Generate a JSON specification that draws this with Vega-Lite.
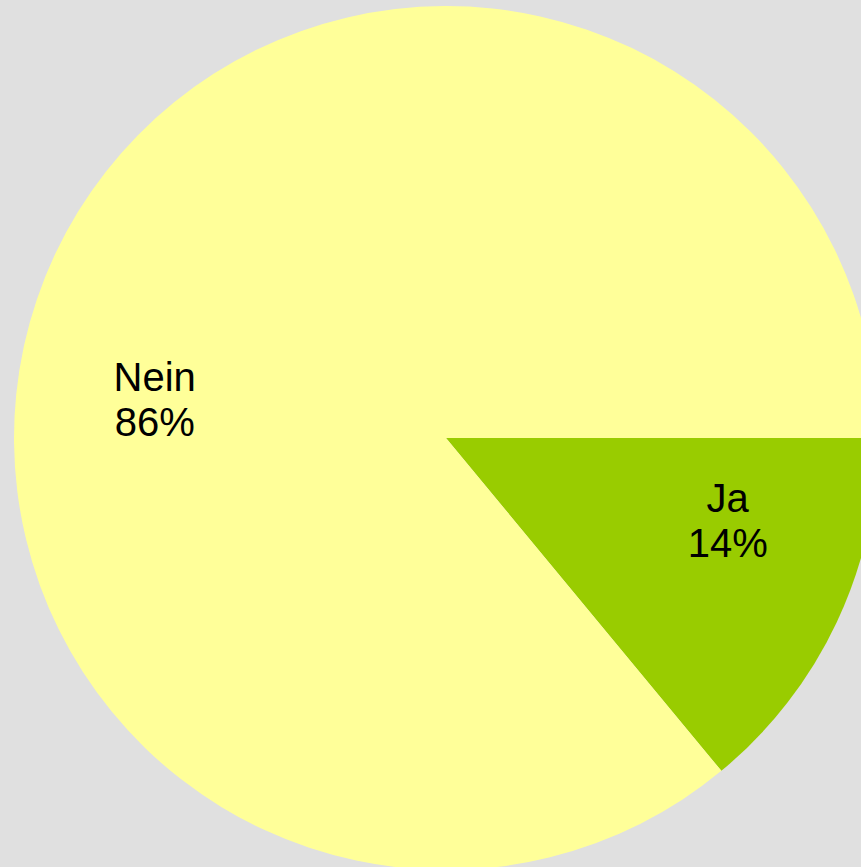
{
  "$schema": "https://vega.github.io/schema/vega-lite/v6.json",
  "width": 830,
  "height": 858,
  "padding": {"left": 31, "top": 9, "right": 0, "bottom": 0},
  "autosize": {"type": "none"},
  "background": "#e0e0e0",
  "config": {"view": {"stroke": null}},
  "data": {"values": [
    {"answer": "Ja", "share": 14, "label": ["Ja", "14%"]},
    {"answer": "Nein", "share": 86, "label": ["Nein", "86%"]}
  ]},
  "encoding": {
    "theta": {"field": "share", "type": "quantitative", "stack": true, "scale": {"range": [1.5708, 7.854]}},
    "order": {"field": "answer", "sort": "ascending"},
    "color": {"field": "answer", "type": "nominal", "legend": null, "scale": {"domain": ["Ja", "Nein"], "range": ["#99cc00", "#ffff99"]}}
  },
  "layer": [
    {"mark": {"type": "arc", "outerRadius": 432}},
    {
      "mark": {"type": "text", "radius": 294, "thetaOffset": -0.15, "dy": -22, "font": "Liberation Sans", "fontSize": 40, "lineHeight": 45, "baseline": "middle", "align": "center"},
      "encoding": {"text": {"condition": {"test": "datum.answer == 'Ja'", "field": "label"}, "value": ""}, "color": {"value": "black"}}
    },
    {
      "mark": {"type": "text", "radius": 294, "thetaOffset": -0.304, "dy": -19, "font": "Liberation Sans", "fontSize": 40, "lineHeight": 45, "baseline": "middle", "align": "center"},
      "encoding": {"text": {"condition": {"test": "datum.answer == 'Nein'", "field": "label"}, "value": ""}, "color": {"value": "black"}}
    }
  ]
}
